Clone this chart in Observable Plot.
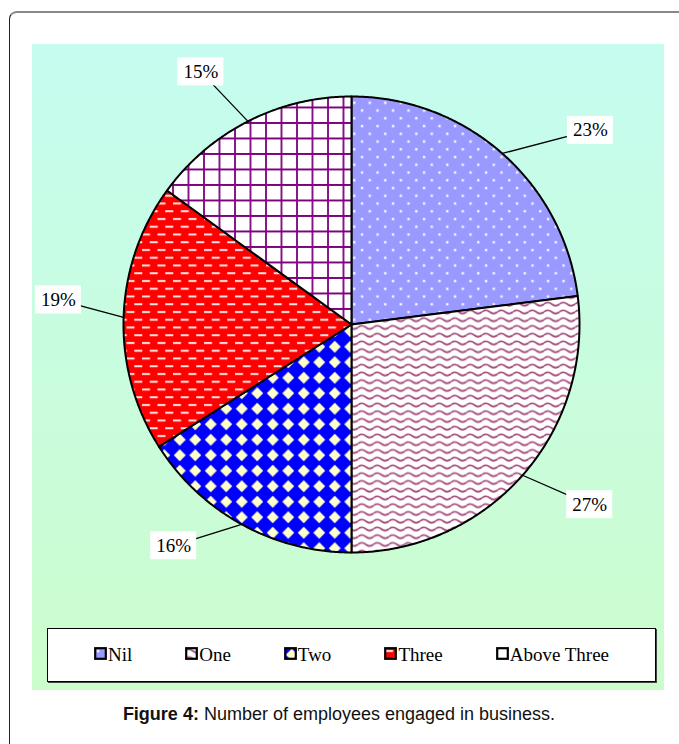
<!DOCTYPE html>
<html>
<head>
<meta charset="utf-8">
<script src="https://cdn.jsdelivr.net/npm/d3@7"></script>
<script src="https://cdn.jsdelivr.net/npm/@observablehq/plot@0.6"></script>
<style>
  html, body { margin: 0; padding: 0; background: #fff; }
  body { width: 679px; height: 744px; overflow: hidden; position: relative; }
  #frame {
    position: absolute; left: 9px; top: 11px; width: 720px; height: 780px;
    border: 1px solid #222; border-top: 2px solid #888; border-radius: 8px;
    box-sizing: border-box;
  }
  #panel {
    position: absolute; left: 32px; top: 44px; width: 632px; height: 646px;
    background: linear-gradient(to bottom, #c6fcf0, #cbfdcc);
  }
  #chart { position: absolute; left: 0; top: 0; }
  #legend {
    position: absolute; left: 15px; top: 584px; width: 609px; height: 54px;
    box-sizing: border-box; background: #fff; border: 1px solid #000;
    box-shadow: 1px 1px 0 #444;
    display: flex; justify-content: center; align-items: center; gap: 53px;
    font-family: "Liberation Serif", "Times New Roman", serif; font-size: 19px; color: #000;
  }
  .item { display: flex; align-items: center; white-space: nowrap; }
  .item svg { margin-right: 1px; margin-top: -3px; }
  #caption {
    position: absolute; left: 9px; width: 660px; top: 704px; text-align: center;
    font-family: "Liberation Sans", Arial, sans-serif; font-size: 18px; color: #111;
  }
</style>
</head>
<body>
<!-- fill patterns shared by the slices and the legend swatches -->
<svg width="0" height="0" style="position:absolute">
  <defs>
    <pattern id="pat-dots" patternUnits="userSpaceOnUse" width="15.5" height="15.5">
      <rect width="15.5" height="15.5" fill="#9999ff"/>
      <rect x="2.75" y="2.75" width="2.6" height="2.6" fill="#dcdcff"/>
      <rect x="3.25" y="3.25" width="1.6" height="1.6" fill="#ffffff"/>
      <rect x="10.5" y="10.5" width="2.6" height="2.6" fill="#dcdcff"/>
      <rect x="11" y="11" width="1.6" height="1.6" fill="#ffffff"/>
    </pattern>
    <pattern id="pat-wave" patternUnits="userSpaceOnUse" width="15.5" height="7.75">
      <rect width="15.5" height="7.75" fill="#ffffff"/>
      <path d="M0,3.9 Q3.875,0.6 7.75,3.9 T15.5,3.9" fill="none" stroke="#a64d7f" stroke-width="1.7"/>
    </pattern>
    <pattern id="pat-diamond" patternUnits="userSpaceOnUse" width="15.5" height="15.5">
      <rect width="15.5" height="15.5" fill="#0000ff"/>
      <polygon points="7.75,1.8 13.7,7.75 7.75,13.7 1.8,7.75" fill="#ffffcc"/>
    </pattern>
    <pattern id="pat-dash" patternUnits="userSpaceOnUse" width="15.5" height="15.5">
      <rect width="15.5" height="15.5" fill="#ff0000"/>
      <rect x="1" y="3" width="8" height="2" fill="#ffe4e4"/>
      <rect x="8.75" y="10.75" width="8" height="2" fill="#ffe4e4"/>
      <rect x="-6.75" y="10.75" width="8" height="2" fill="#ffe4e4"/>
    </pattern>
    <pattern id="pat-grid" patternUnits="userSpaceOnUse" width="15.5" height="15.5">
      <rect width="15.5" height="15.5" fill="#ffffff"/>
      <path d="M1,0V15.5M0,1H15.5" fill="none" stroke="#800080" stroke-width="1.8"/>
    </pattern>
  </defs>
</svg>

<div id="frame"></div>
<div id="panel">
  <div id="chart"></div>
  <div id="legend"></div>
</div>
<div id="caption"><b>Figure 4:</b> Number of employees engaged in business.</div>

<script>
// Share of businesses by number of employees engaged
const categories = ["Nil", "One", "Two", "Three", "Above Three"];
const shares = [23, 27, 16, 19, 15];

// Styling and label placement
const patterns = ["pat-dots", "pat-wave", "pat-diamond", "pat-dash", "pat-grid"];
const labelAngleShift = [9.5, -4.3, 10, 3, -3.8]; // degrees, relative to slice middle
const labelRadius = [1.35, 1.31, 1.245, 1.29, 1.29]; // in pie radii

const W = 632, H = 580;
const R = 228;            // pie radius in pixels
const CX = 319, CY = 280; // pie centre within the plot

// Slice angles, clockwise from 12 o'clock
const total = d3.sum(shares);
let acc = 0;
const slices = categories.map((name, i) => {
  const a0 = (acc / total) * 2 * Math.PI;
  acc += shares[i];
  const a1 = (acc / total) * 2 * Math.PI;
  return {name, value: shares[i], a0, a1, mid: (a0 + a1) / 2, i};
});

// Each slice as a closed outline: centre -> arc -> centre
const outline = slices.flatMap((s) => {
  const n = Math.max(2, Math.ceil((s.a1 - s.a0) / (Math.PI / 360)));
  const pts = [{name: s.name, x: 0, y: 0}];
  for (let k = 0; k <= n; ++k) {
    const a = s.a0 + ((s.a1 - s.a0) * k) / n;
    pts.push({name: s.name, x: Math.sin(a), y: Math.cos(a)});
  }
  pts.push({name: s.name, x: 0, y: 0});
  return pts;
});

const labels = slices.map((s) => {
  const a = s.mid + (labelAngleShift[s.i] * Math.PI) / 180;
  const r = labelRadius[s.i];
  return {
    text: `${s.value}%`,
    ax: Math.sin(s.mid), ay: Math.cos(s.mid),
    lx: r * Math.sin(a), ly: r * Math.cos(a)
  };
});
const boxW = 46 / R, boxH = 28 / R;

const chart = Plot.plot({
  width: W,
  height: H,
  margin: 0,
  style: {background: "transparent"},
  x: {domain: [-CX / R, (W - CX) / R], axis: null},
  y: {domain: [-(H - CY) / R, CY / R], axis: null},
  color: {type: "ordinal", domain: categories, range: patterns.map((p) => `url(#${p})`)},
  marks: [
    Plot.line(outline, {
      x: "x", y: "y", z: "name", fill: "name",
      stroke: "#000", strokeWidth: 2, strokeLinejoin: "round", curve: "linear"
    }),
    Plot.link(labels, {x1: "ax", y1: "ay", x2: "lx", y2: "ly", stroke: "#000", strokeWidth: 1.3}),
    Plot.rect(labels, {
      x1: (d) => d.lx - boxW / 2, x2: (d) => d.lx + boxW / 2,
      y1: (d) => d.ly - boxH / 2, y2: (d) => d.ly + boxH / 2,
      fill: "#fff"
    }),
    Plot.text(labels, {
      x: "lx", y: "ly", text: "text", fill: "#000",
      fontFamily: "Liberation Serif, Times New Roman, serif", fontSize: 19
    })
  ]
});
document.getElementById("chart").append(chart);

// Legend: patterned swatch + name for each category
const legend = document.getElementById("legend");
categories.forEach((name, i) => {
  const item = document.createElement("div");
  item.className = "item";
  item.innerHTML =
    `<svg width="13" height="13"><rect x="1.2" y="1.2" width="10.6" height="10.6" fill="url(#${patterns[i]})" stroke="#000" stroke-width="2.2"/></svg>` +
    `<span>${name}</span>`;
  legend.append(item);
});
</script>
</body>
</html>
